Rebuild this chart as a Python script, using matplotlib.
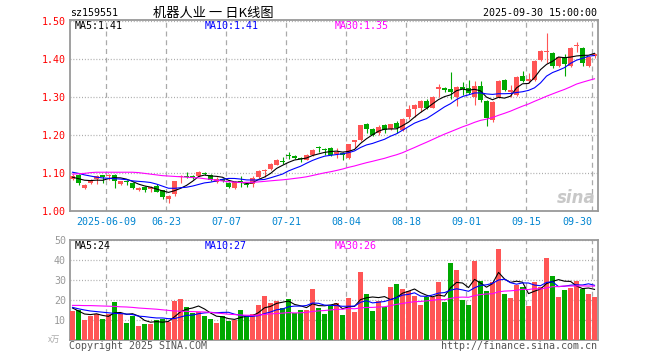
import numpy as np
import pandas as pd
import matplotlib
matplotlib.use("Agg")
import matplotlib.pyplot as plt

plt.rcParams['font.family'] = ['DejaVu Sans Mono', 'Noto Sans CJK SC']

code = "sz159551"
title = "机器人业 一 日K线图"
stamp = "2025-09-30 15:00:00"

# daily candles, 2025-05-29 .. 2025-09-30
opens = [1.085, 1.095, 1.061, 1.073, 1.084, 1.094, 1.092, 1.095, 1.071, 1.080,
         1.073, 1.054, 1.063, 1.057, 1.065, 1.054, 1.031, 1.044, 1.090, 1.093,
         1.092, 1.093, 1.100, 1.096, 1.076, 1.084, 1.074, 1.061, 1.080, 1.072,
         1.072, 1.090, 1.106, 1.111, 1.122, 1.131, 1.148, 1.146, 1.139, 1.135,
         1.148, 1.168, 1.163, 1.167, 1.150, 1.152, 1.139, 1.182, 1.187, 1.229,
         1.216, 1.204, 1.225, 1.216, 1.232, 1.213, 1.248, 1.268, 1.272, 1.289,
         1.272, 1.322, 1.323, 1.321, 1.299, 1.325, 1.323, 1.301, 1.329, 1.290,
         1.240, 1.299, 1.345, 1.314, 1.305, 1.355, 1.343, 1.345, 1.397, 1.419,
         1.417, 1.382, 1.404, 1.382, 1.433, 1.430, 1.382, 1.408]
highs = [1.097, 1.097, 1.070, 1.083, 1.096, 1.096, 1.098, 1.097, 1.080, 1.082,
         1.076, 1.062, 1.065, 1.065, 1.072, 1.056, 1.042, 1.080, 1.096, 1.103,
         1.094, 1.104, 1.103, 1.098, 1.089, 1.086, 1.076, 1.079, 1.093, 1.074,
         1.093, 1.108, 1.111, 1.126, 1.136, 1.142, 1.156, 1.148, 1.141, 1.149,
         1.162, 1.172, 1.165, 1.169, 1.167, 1.155, 1.177, 1.188, 1.227, 1.231,
         1.218, 1.226, 1.228, 1.230, 1.237, 1.244, 1.279, 1.281, 1.291, 1.296,
         1.303, 1.333, 1.327, 1.367, 1.329, 1.340, 1.346, 1.342, 1.342, 1.292,
         1.290, 1.345, 1.347, 1.331, 1.355, 1.369, 1.362, 1.398, 1.424, 1.469,
         1.419, 1.406, 1.413, 1.432, 1.446, 1.432, 1.408, 1.416]
lows = [1.082, 1.068, 1.057, 1.070, 1.071, 1.073, 1.082, 1.060, 1.069, 1.069,
        1.058, 1.052, 1.051, 1.050, 1.049, 1.031, 1.022, 1.040, 1.073, 1.088,
        1.083, 1.091, 1.096, 1.078, 1.074, 1.076, 1.060, 1.059, 1.064, 1.063,
        1.062, 1.088, 1.090, 1.109, 1.120, 1.123, 1.136, 1.138, 1.128, 1.133,
        1.146, 1.156, 1.148, 1.145, 1.140, 1.134, 1.137, 1.166, 1.185, 1.204,
        1.198, 1.200, 1.204, 1.214, 1.204, 1.211, 1.242, 1.248, 1.261, 1.268,
        1.270, 1.301, 1.312, 1.296, 1.275, 1.305, 1.309, 1.279, 1.288, 1.224,
        1.235, 1.297, 1.316, 1.301, 1.303, 1.340, 1.336, 1.343, 1.395, 1.389,
        1.375, 1.380, 1.354, 1.380, 1.419, 1.382, 1.380, 1.402]
closes = [1.092, 1.073, 1.068, 1.080, 1.093, 1.090, 1.095, 1.080, 1.078, 1.076,
          1.060, 1.060, 1.056, 1.062, 1.051, 1.036, 1.040, 1.078, 1.093, 1.090,
          1.090, 1.102, 1.098, 1.081, 1.085, 1.078, 1.062, 1.077, 1.077, 1.068,
          1.087, 1.106, 1.109, 1.124, 1.134, 1.128, 1.145, 1.140, 1.136, 1.148,
          1.161, 1.166, 1.160, 1.147, 1.154, 1.148, 1.175, 1.186, 1.226, 1.216,
          1.200, 1.222, 1.213, 1.228, 1.218, 1.242, 1.268, 1.279, 1.289, 1.272,
          1.301, 1.325, 1.318, 1.312, 1.327, 1.322, 1.311, 1.329, 1.292, 1.244,
          1.288, 1.343, 1.318, 1.318, 1.353, 1.342, 1.347, 1.396, 1.422, 1.422,
          1.382, 1.404, 1.387, 1.430, 1.437, 1.389, 1.406, 1.412]
# volume, x万
volumes = [14.7, 15.2, 10.2, 12.2, 13.2, 10.7, 12.8, 19.2, 12.8, 8.7,
           12.2, 7.2, 8.2, 8.2, 10.2, 10.7, 9.2, 19.7, 20.7, 16.7,
           13.7, 14.2, 12.2, 10.7, 8.7, 12.2, 9.7, 10.2, 15.2, 12.2,
           13.2, 17.7, 22.2, 18.7, 19.7, 16.2, 20.7, 13.7, 15.2, 15.2,
           25.7, 16.2, 13.2, 17.2, 18.7, 12.7, 21.2, 14.2, 34.2, 23.2,
           14.7, 19.7, 16.7, 26.7, 28.2, 25.7, 24.7, 22.2, 17.7, 21.7,
           21.7, 29.2, 19.2, 38.7, 35.2, 20.2, 17.7, 39.7, 29.7, 24.7,
           29.2, 45.7, 23.2, 21.2, 27.7, 26.7, 17.2, 29.2, 26.7, 41.2,
           32.2, 21.7, 25.2, 26.2, 29.7, 25.7, 23.2, 21.7]

# moving averages at the left edge (history before the window)
ma5_head = [1.089, 1.085, 1.081, 1.080]
ma10_head = [1.102, 1.099, 1.095, 1.092, 1.089, 1.087, 1.086, 1.085, 1.084]
ma30_head = [1.097, 1.098, 1.099, 1.101, 1.102, 1.102, 1.102, 1.102, 1.102, 1.102,
             1.102, 1.101, 1.099, 1.097, 1.095, 1.093, 1.092, 1.091, 1.090, 1.089,
             1.088, 1.087, 1.085, 1.083, 1.081, 1.079, 1.077, 1.076, 1.075]
vma5_head = [16.0, 14.5, 13.0, 12.7]
vma10_head = [16.3, 15.6, 15.0, 14.5, 14.2, 13.9, 13.6, 13.3, 13.2]
vma30_head = [17.3, 17.3, 17.2, 17.2, 17.1, 17.0, 16.9, 16.8, 16.6, 16.5,
              16.3, 16.0, 15.8, 15.6, 15.4, 15.1, 14.8, 14.5, 14.4, 14.3,
              14.2, 14.1, 14.0, 13.8, 13.5, 13.2, 12.9, 12.7, 12.5]

tick_dates = ["2025-06-09", "2025-06-23", "2025-07-07", "2025-07-21", "2025-08-04",
              "2025-08-18", "2025-09-01", "2025-09-15", "2025-09-30"]
tick_labels = ["2025-06-09", "06-23", "07-07", "07-21", "08-04",
               "08-18", "09-01", "09-15", "09-30"]
price_ticks = [1.00, 1.10, 1.20, 1.30, 1.40, 1.50]
vol_ticks = [10, 20, 30, 40, 50]

ma_labels = ["MA5:1.41", "MA10:1.41", "MA30:1.35"]
vma_labels = ["MA5:24", "MA10:27", "MA30:26"]

RED = '#ff5555'
GREEN = '#00a800'
MA_COLORS = ['black', '#0000ff', '#ff00ff']
GRID = '#aaaaaa'
FRAME = '#999999'

days = pd.bdate_range("2025-05-29", "2025-09-30")
days = days[days != pd.Timestamp("2025-06-02")]
tick_pos = [days.get_loc(pd.Timestamp(d)) for d in tick_dates]


def moving(values, n, head):
    s = pd.Series(values).rolling(n).mean()
    s.iloc[:n - 1] = head
    return s


o = np.array(opens)
h = np.array(highs)
l = np.array(lows)
c = np.array(closes)
v = np.array(volumes)
x = np.arange(len(c))
colors = np.where(c >= o, RED, GREEN)

W, H = 660, 360
fig = plt.figure(figsize=(6.6, 3.6), dpi=100)


def px(xp, yp):
    return xp / W, 1 - yp / H


ax = fig.add_axes([70 / W, 1 - 211 / H, 528 / W, 191 / H])
axv = fig.add_axes([70 / W, 1 - 340 / H, 528 / W, 100 / H])

left_edge = -0.42
for a in (ax, axv):
    a.set_xlim(left_edge, len(c) + left_edge)
    for s in a.spines.values():
        s.set_color(FRAME)
        s.set_linewidth(1.3)
    a.set_xticks([p + left_edge for p in tick_pos])
    a.tick_params(length=0)
    a.grid(True, axis='x', color=GRID, lw=0.9, ls=(0, (4, 3)))
    a.grid(True, axis='y', color=GRID, lw=0.9, ls=(0, (0.8, 1.5)))
    a.set_axisbelow(True)

# price panel
ax.set_ylim(1.0, 1.5026)
ax.set_yticks(price_ticks)
ax.set_yticklabels(["%.2f" % t for t in price_ticks])
ax.tick_params(axis='y', labelcolor='#ff0000', labelsize=7.2, pad=3)
ax.set_xticklabels(tick_labels)
ax.tick_params(axis='x', labelcolor='#0084d0', labelsize=7.2, pad=4.5)
ax.get_xticklabels()[-1].set_ha('right')

body = np.maximum(np.abs(c - o), 0.0025)
bottom = (o + c) / 2 - body / 2
ax.vlines(x, l, h, colors=colors, lw=0.8, zorder=2)
ax.bar(x, body, bottom=bottom, width=0.8, color=colors, linewidth=0, zorder=3)

for n, head, col in zip([5, 10, 30], [ma5_head, ma10_head, ma30_head], MA_COLORS):
    ax.plot(x, moving(c, n, head), color=col, lw=0.8, zorder=4)

# faint watermark
fig.text(*px(596, 198), "sina", fontsize=12, fontstyle='italic', fontweight='bold',
         color='#c8c8c8', ha='right', va='center', family='DejaVu Sans')

# volume panel
axv.set_ylim(0, 50)
axv.set_yticks(vol_ticks)
axv.set_yticklabels([str(t) for t in vol_ticks])
axv.tick_params(axis='y', labelcolor='#999999', labelsize=7.2, pad=3)
axv.set_xticklabels([])
axv.bar(x, v, width=0.8, color=colors, linewidth=0, zorder=3)
for n, head, col in zip([5, 10, 30], [vma5_head, vma10_head, vma30_head], MA_COLORS):
    axv.plot(x, moving(v, n, head), color=col, lw=0.8, zorder=4)

# texts
for label, col, xp in zip(ma_labels, MA_COLORS, [75, 205, 335]):
    fig.text(*px(xp, 26), label, color=col, fontsize=7.2, va='center')
for label, col, xp in zip(vma_labels, MA_COLORS, [75, 205, 335]):
    fig.text(*px(xp, 246), label, color=col, fontsize=7.2, va='center')

fig.text(*px(70, 13), code, fontsize=7.2, va='center')
fig.text(*px(213, 13), title, fontsize=9.5, ha='center', va='center',
         family=['Noto Sans CJK SC', 'DejaVu Sans'])
fig.text(*px(597, 13), stamp, fontsize=7.2, ha='right', va='center')
fig.text(*px(48, 339), "x万", fontsize=6, color='#aaaaaa', va='center',
         family=['Noto Sans CJK SC', 'DejaVu Sans'])
fig.text(*px(69, 346), "Copyright 2025 SINA.COM", fontsize=7.2, color='#555555', va='center')
fig.text(*px(597, 346), "http://finance.sina.com.cn", fontsize=7.2, color='#555555',
         ha='right', va='center')

fig.savefig("out.png", dpi=100)
